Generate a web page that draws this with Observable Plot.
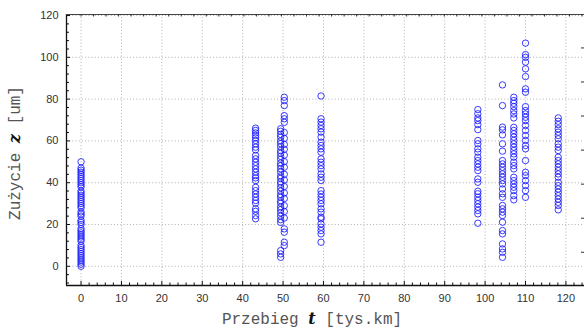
<!DOCTYPE html>
<html><head><meta charset="utf-8">
<script src="https://cdn.jsdelivr.net/npm/d3@7"></script>
<script src="https://cdn.jsdelivr.net/npm/@observablehq/plot@0.6"></script>
<style>body{margin:0;background:#fff} svg{display:block}</style>
</head><body><div id="chart"></div>
<script>
// tick labels
const xTicks = [0, 10, 20, 30, 40, 50, 60, 70, 80, 90, 100, 110, 120];
const yTicks = [0, 20, 40, 60, 80, 100, 120];

// mileage t [tys.km] of each measured group and wear z [um]
const t_A = 0;
const z_A = [50, 47, 46, 45, 44, 43, 42, 41, 40, 39, 38, 36, 35, 34, 33, 32, 31, 30, 29, 28, 26, 25, 24, 22, 21, 20, 18, 17, 16, 15, 14, 13, 12, 10, 9, 8, 7, 6, 5, 4, 3, 2, 1, 0];
const t_B = 43.2;
const z_B = [66.1, 65.0, 63.8, 62.6, 61.5, 60.2, 58.6, 57.0, 55.7, 53.0, 51.4, 49.8, 48.2, 46.6, 45.0, 43.4, 42.3, 41.0, 37.8, 36.2, 34.6, 33.0, 31.5, 30.2, 27.5, 26.3, 24.3, 22.7];
const t_C1 = 49.4;
const z_C1 = [65.8, 64.6, 63.1, 61.8, 60.0, 58.7, 57.2, 55.4, 54.1, 52.6, 51.2, 49.4, 48.1, 46.7, 45.2, 43.3, 42.1, 40.4, 39.2, 37.6, 36.0, 34.3, 33.1, 31.4, 30.2, 28.4, 27.1, 25.6, 24.0, 22.3, 21.0, 7.5, 5.9, 4.3];
const t_C2 = 50.3;
const z_C2 = [80.9, 79.3, 76.9, 72.1, 70.6, 68.9, 64.0, 61.2, 58.3, 56.0, 53.2, 50.1, 47.4, 44.0, 41.3, 38.2, 35.1, 32.4, 29.0, 26.2, 23.1, 17.9, 16.3, 11.5, 9.9];
const t_D = 59.4;
const z_D = [81.5, 70.6, 69.0, 67.4, 65.8, 64.2, 61.8, 59.4, 57.8, 56.2, 54.6, 51.4, 49.8, 48.2, 46.6, 44.2, 42.6, 41.0, 36.2, 34.6, 33.0, 31.5, 29.9, 27.5, 25.9, 23.5, 22.7, 20.3, 18.7, 17.1, 15.5, 11.5];
const t_E = 98.2;
const z_E = [75.0, 73.0, 71.0, 69.7, 67.8, 65.4, 60.2, 58.6, 56.2, 54.6, 52.2, 50.6, 49.0, 47.4, 45.8, 41.8, 40.2, 35.9, 34.7, 33.0, 31.5, 29.9, 28.3, 26.7, 25.1, 20.6];
const t_F = 104.3;
const z_F = [86.8, 76.9, 66.6, 65.3, 62.9, 58.6, 55.1, 50.6, 49.0, 47.4, 45.8, 44.2, 42.6, 41.0, 39.4, 37.0, 34.7, 33.0, 29.1, 27.5, 25.9, 24.3, 21.1, 17.1, 15.5, 10.7, 8.3, 6.7, 4.3];
const t_G = 107.1;
const z_G = [80.9, 79.3, 78.0, 76.4, 74.5, 72.9, 71.0, 66.5, 65.0, 63.4, 61.8, 60.2, 58.6, 57.0, 55.4, 53.8, 52.2, 49.8, 48.2, 46.6, 42.6, 41.0, 39.4, 37.8, 36.2, 33.8, 31.8];
const t_H = 110.0;
const z_H = [106.8, 101.3, 100.0, 97.7, 94.5, 90.8, 84.9, 83.3, 76.4, 74.5, 72.9, 71.3, 69.7, 67.4, 65.0, 62.6, 60.2, 57.8, 56.2, 50.6, 45.0, 43.4, 41.0, 38.6, 36.2, 33.0];
const t_I = 118.1;
const z_I = [71.0, 69.4, 67.8, 65.8, 64.2, 62.6, 61.0, 58.6, 57.0, 55.4, 52.2, 50.6, 49.0, 47.4, 45.8, 44.2, 42.6, 40.2, 38.6, 37.0, 35.4, 33.8, 32.2, 30.6, 29.1, 27.0];

const groups = [[t_A, z_A], [t_B, z_B], [t_C1, z_C1], [t_C2, z_C2], [t_D, z_D], [t_E, z_E], [t_F, z_F], [t_G, z_G], [t_H, z_H], [t_I, z_I]];
const points = groups.flatMap(([t, zs]) => zs.map(z => ({t, z})));

const W = 584, H = 334;
const mL = 66, mR = 0, mT = 14, mB = 49;
const xDom = [-3.6, 124.6], yDom = [-9.2, 120.5];
const pxY = (H - mT - mB) / (yDom[1] - yDom[0]);
const xMinor = d3.range(0, 125, 2);
const yMinor = d3.range(-8, 121, 4);
const topMinor = d3.range(0, 125, 3.1);
const rightMinor = d3.range(6.7, 120, 16.3);

const plot = Plot.plot({
  width: W, height: H,
  marginLeft: mL, marginRight: mR, marginTop: mT, marginBottom: mB,
  style: {fontFamily: "'Liberation Sans', Arial, sans-serif", fontSize: "11px", background: "#fff", overflow: "visible"},
  x: {domain: xDom, axis: null},
  y: {domain: yDom, axis: null},
  marks: [
    Plot.ruleX(xTicks, {x: d => d, stroke: "#b0b0b0", strokeDasharray: "1,2.2", strokeWidth: 1}),
    Plot.ruleY(yTicks, {y: d => d, stroke: "#b0b0b0", strokeDasharray: "1,2.2", strokeWidth: 1}),
    // frame
    Plot.ruleX([xDom[0]], {stroke: "#111", strokeWidth: 1.3}),
    Plot.ruleY([yDom[0]], {stroke: "#111", strokeWidth: 1.3}),
    Plot.ruleY([yDom[1]], {stroke: "#444", strokeWidth: 1}),
    // inward ticks
    Plot.ruleX(xMinor, {x: d => d, y1: yDom[0], y2: d => yDom[0] + (d % 10 === 0 ? 4 : 2.5) / pxY, stroke: "#111"}),
    Plot.ruleY(yMinor, {y: d => d, x1: xDom[0], x2: d => xDom[0] + (d % 20 === 0 ? 4 : 3) / 4.04, stroke: "#111"}),
    Plot.ruleX(topMinor, {x: d => d, y1: yDom[1], y2: yDom[1] - 2.5 / pxY, stroke: "#333"}),
    Plot.ruleY(rightMinor, {y: d => d, x1: xDom[1], x2: xDom[1] - 3 / 4.04, stroke: "#333"}),
    // tick labels
    Plot.text(xTicks, {x: d => d, y: yDom[0], dy: 13, text: d => String(d), fill: "#333", fontSize: 11}),
    Plot.text(yTicks, {x: xDom[0], y: d => d, dx: -8, textAnchor: "end", text: d => String(d), fill: "#333", fontSize: 11}),
    // data
    Plot.dot(points, {x: "t", y: "z", r: 3.2, stroke: "#1a1aff", strokeWidth: 1, fill: "none", strokeOpacity: 0.85})
  ]
});

const svg = d3.select(plot);
const labFont = "'Liberation Mono', 'DejaVu Sans Mono', monospace";
const xt = svg.append("text").attr("x", 312).attr("y", 324).attr("text-anchor", "middle")
  .attr("font-family", labFont).attr("font-size", 16).attr("fill", "#555");
xt.append("tspan").text("Przebieg ");
xt.append("tspan").attr("font-family", "'DejaVu Serif', serif").attr("font-weight", "bold").attr("font-style", "italic").attr("fill", "#111").text("t");
xt.append("tspan").text(" [tys.km]");
const yt = svg.append("text").attr("transform", "translate(20,153) rotate(-90)").attr("text-anchor", "middle")
  .attr("font-family", labFont).attr("font-size", 16).attr("fill", "#555");
yt.append("tspan").text("Zużycie ");
yt.append("tspan").attr("font-family", "'DejaVu Serif', serif").attr("font-weight", "bold").attr("font-style", "italic").attr("fill", "#111").text("z");
yt.append("tspan").text(" [um]");

document.getElementById("chart").appendChild(plot);
</script>
</body></html>
